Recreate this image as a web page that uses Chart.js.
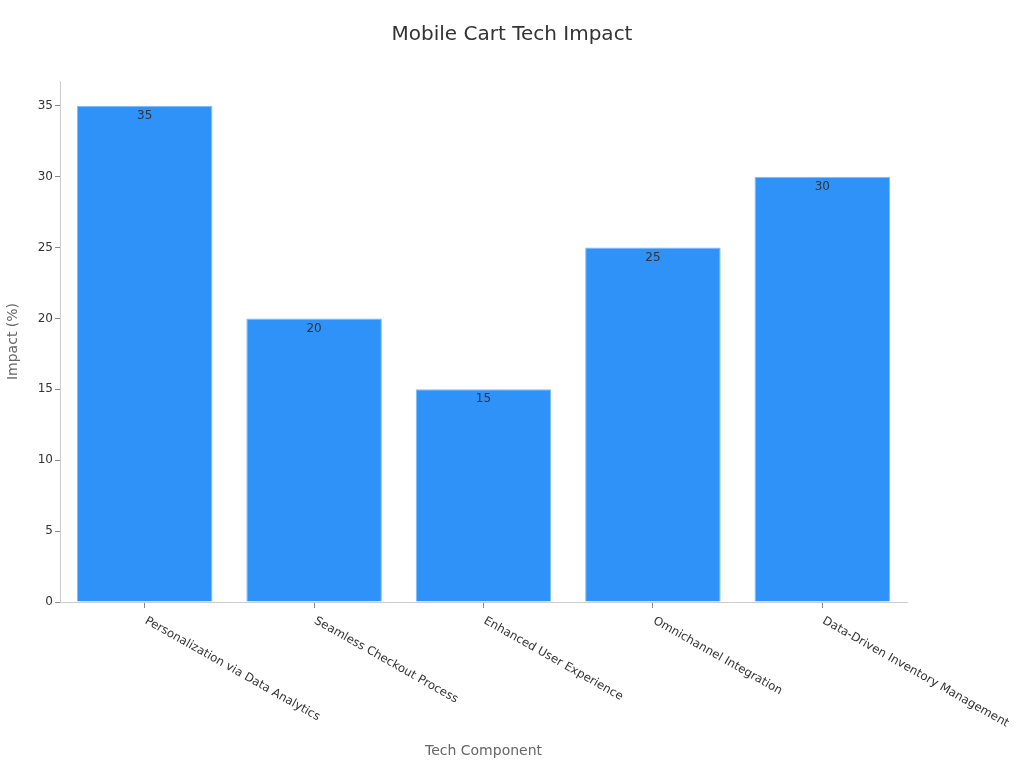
<!DOCTYPE html>
<html>
<head>
<meta charset="utf-8">
<script src="https://cdn.jsdelivr.net/npm/chart.js@4"></script>
<style>
html,body{margin:0;padding:0;background:#fff;}
#wrap{width:1024px;height:768px;}
</style>
</head>
<body>
<div id="wrap"><canvas id="c" width="1024" height="768"></canvas></div>
<script>
const categories = ["Personalization via Data Analytics","Seamless Checkout Process","Enhanced User Experience","Omnichannel Integration","Data-Driven Inventory Management"];
const impactValues = [35, 20, 15, 25, 30];
const chartTitle = "Mobile Cart Tech Impact";
const xTitle = "Tech Component";
const yTitle = "Impact (%)";

const FONT = "'DejaVu Sans', sans-serif";

const labelPlugin = {
  id: 'customLabels',
  afterDatasetsDraw(chart) {
    const ctx = chart.ctx;
    const meta = chart.getDatasetMeta(0);
    ctx.save();
    ctx.font = "12px " + FONT;
    ctx.fillStyle = "#333";
    ctx.textAlign = "center";
    ctx.textBaseline = "middle";
    meta.data.forEach((bar, i) => {
      ctx.fillText(String(impactValues[i]), bar.x, bar.y + 10);
    });
    ctx.restore();
  },
  afterDraw(chart) {
    const ctx = chart.ctx;
    const xs = chart.scales.x;
    ctx.save();
    // title centred on the whole canvas
    ctx.font = "20px " + FONT;
    ctx.fillStyle = "#333";
    ctx.textAlign = "center";
    ctx.textBaseline = "middle";
    ctx.fillText(chartTitle, chart.width / 2, 35);
    // rotated category labels, starting at the tick
    ctx.font = "11.75px " + FONT;
    ctx.textAlign = "left";
    categories.forEach((lab, i) => {
      const x = xs.getPixelForTick(i);
      ctx.save();
      ctx.translate(x + 1, xs.top + 18);
      ctx.rotate(29.5 * Math.PI / 180);
      ctx.fillText(lab, 0, 0);
      ctx.restore();
    });
    ctx.restore();
  }
};

new Chart(document.getElementById('c'), {
  type: 'bar',
  data: {
    labels: categories,
    datasets: [{
      data: impactValues,
      backgroundColor: '#2F92F8',
      borderColor: '#7DBCFA',
      borderWidth: 1,
      barPercentage: 0.8,
      categoryPercentage: 1.0
    }]
  },
  options: {
    responsive: false,
    animation: false,
    devicePixelRatio: 1,
    layout: { padding: { left: 0, right: 117, top: 81, bottom: 0 } },
    plugins: {
      legend: { display: false },
      tooltip: { enabled: false },
      title: { display: false }
    },
    scales: {
      x: {
        grid: { display: true, offset: false, drawOnChartArea: false, drawTicks: true, tickLength: 6, color: '#888' },
        border: { display: true, color: '#ccc' },
        ticks: { display: false },
        title: {
          display: true, text: xTitle, color: '#666',
          font: { family: FONT, size: 14, lineHeight: 1.2 },
          padding: { top: 8, bottom: 8 }
        },
        afterFit(scale) { scale.height = 166; }
      },
      y: {
        min: 0,
        max: 36.75,
        grid: { display: true, drawOnChartArea: false, drawTicks: true, tickLength: 5, color: '#888' },
        border: { display: true, color: '#ccc' },
        ticks: { stepSize: 5, includeBounds: false, color: '#333', font: { family: FONT, size: 12 }, padding: 2 },
        title: {
          display: true, text: yTitle, color: '#666',
          font: { family: FONT, size: 14, lineHeight: 1.2 },
          padding: { top: 5, bottom: 5 }
        },
        afterFit(scale) { scale.width = 60; }
      }
    }
  },
  plugins: [labelPlugin]
});
</script>
</body>
</html>
